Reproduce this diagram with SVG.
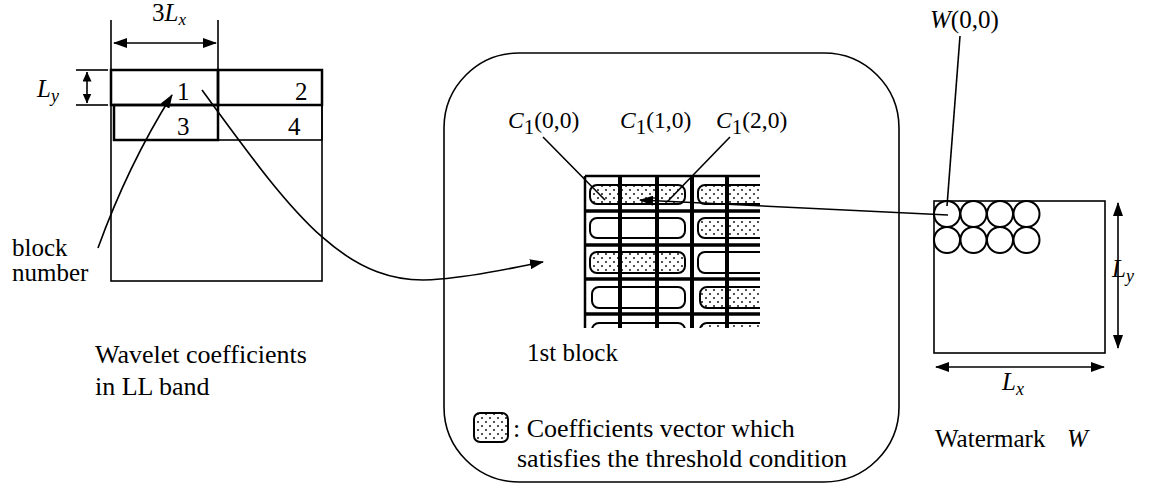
<svg xmlns="http://www.w3.org/2000/svg" width="1149" height="484" viewBox="0 0 1149 484">
<style>
text{font-family:"Liberation Serif","Times New Roman",Times,"Nimbus Roman","DejaVu Serif","Noto Serif",serif;font-size:25px;fill:#000}
.i{font-style:italic}
.big{font-size:26px}
.lbl{font-size:23.5px}
.ln{fill:none;stroke:#000;stroke-width:1.6}
.blk{fill:none;stroke:#000;stroke-width:2.5}
.cap{stroke:#000;stroke-width:2}
.gv{stroke:#000;stroke-width:4}
.gh{stroke:#000;stroke-width:3.5}
</style>
<defs>
<pattern id="dots" width="8" height="8" patternUnits="userSpaceOnUse">
<rect width="8" height="8" fill="#fff"/>
<circle cx="2" cy="2" r="0.9" fill="#000"/>
<circle cx="6" cy="6" r="0.9" fill="#000"/>
</pattern>
<marker id="ah" markerWidth="14" markerHeight="10" refX="13" refY="5" orient="auto-start-reverse" markerUnits="userSpaceOnUse">
<path d="M0,0 L14,5 L0,10 Z" fill="#000"/>
</marker>
<marker id="ahs" markerWidth="10" markerHeight="9" refX="9.5" refY="4.5" orient="auto-start-reverse" markerUnits="userSpaceOnUse">
<path d="M0,0 L10,4.5 L0,9 Z" fill="#000"/>
</marker>
<clipPath id="gclip"><rect x="583" y="174" width="177" height="154"/></clipPath>
</defs>

<g id="ll-band">
<rect x="111" y="70" width="211" height="211" class="ln"/>
<rect x="111" y="70" width="107" height="35" class="blk"/>
<rect x="218" y="70" width="104" height="35" class="blk"/>
<rect x="114" y="105" width="104" height="35" class="blk"/>
<rect x="218" y="105" width="104" height="35" class="ln"/>
<text x="177" y="100">1</text>
<text x="295" y="100">2</text>
<text x="177" y="135">3</text>
<text x="288" y="135">4</text>
<line x1="111" y1="20" x2="111" y2="70" class="ln"/>
<line x1="218" y1="20" x2="218" y2="70" class="ln"/>
<line x1="114" y1="43" x2="216" y2="43" class="ln" marker-start="url(#ah)" marker-end="url(#ah)"/>
<text x="152" y="21">3<tspan class="i">L</tspan><tspan class="i" font-size="17" dy="4">x</tspan></text>
<line x1="76" y1="70" x2="108" y2="70" class="ln"/>
<line x1="76" y1="105" x2="108" y2="105" class="ln"/>
<line x1="87" y1="72" x2="87" y2="103" class="ln" marker-start="url(#ahs)" marker-end="url(#ahs)"/>
<text x="37" y="97" class="i">L<tspan font-size="18" dy="5">y</tspan></text>
<text x="12" y="256">block</text>
<text x="12" y="281">number</text>
<text x="95" y="363" class="big">Wavelet coefficients</text>
<text x="95" y="395" class="big">in LL band</text>
</g>

<g id="first-block">
<rect x="444" y="53" width="455" height="429" rx="75" ry="75" class="ln" stroke-width="2"/>
<g clip-path="url(#gclip)">
<rect x="590" y="185" width="95" height="19" rx="7" fill="url(#dots)" class="cap"/>
<rect x="698" y="185" width="110" height="19" rx="7" fill="url(#dots)" class="cap"/>
<rect x="590" y="218" width="95" height="20" rx="7" fill="#fff" class="cap"/>
<rect x="698" y="218" width="110" height="20" rx="7" fill="url(#dots)" class="cap"/>
<rect x="590" y="252" width="95" height="21" rx="7" fill="url(#dots)" class="cap"/>
<rect x="698" y="252" width="110" height="21" rx="7" fill="#fff" class="cap"/>
<rect x="592" y="287" width="93" height="21" rx="7" fill="#fff" class="cap"/>
<rect x="700" y="287" width="110" height="21" rx="7" fill="url(#dots)" class="cap"/>
<rect x="592" y="323" width="93" height="21" rx="7" fill="#fff" class="cap"/>
<rect x="700" y="323" width="110" height="21" rx="7" fill="url(#dots)" class="cap"/>
<line x1="585" y1="176" x2="760" y2="176" stroke="#000" stroke-width="2.5"/>
<line x1="585" y1="176" x2="585" y2="330" stroke="#000" stroke-width="2.5"/>
<line x1="585" y1="211" x2="760" y2="211" class="gh"/>
<line x1="585" y1="245" x2="760" y2="245" class="gh"/>
<line x1="585" y1="279" x2="760" y2="279" class="gh"/>
<line x1="585" y1="314" x2="760" y2="314" class="gh"/>
<line x1="620" y1="176" x2="620" y2="330" class="gv"/>
<line x1="657" y1="176" x2="657" y2="330" class="gv"/>
<line x1="692" y1="176" x2="692" y2="330" class="gv"/>
<line x1="727" y1="176" x2="727" y2="330" class="gv"/>
</g>
<text x="508" y="128" class="lbl"><tspan class="i">C</tspan><tspan font-size="21" dy="6">1</tspan><tspan dy="-6">(0,0)</tspan></text>
<text x="620" y="128" class="lbl"><tspan class="i">C</tspan><tspan font-size="21" dy="6">1</tspan><tspan dy="-6">(1,0)</tspan></text>
<text x="716" y="128" class="lbl"><tspan class="i">C</tspan><tspan font-size="21" dy="6">1</tspan><tspan dy="-6">(2,0)</tspan></text>
<text x="527" y="361">1st block</text>
<rect x="474" y="413" width="34" height="29" rx="6" fill="url(#dots)" class="cap"/>
<text x="513" y="437" class="big">: Coefficients vector which</text>
<text x="517" y="467" class="big">satisfies the threshold condition</text>
</g>

<g id="watermark">
<rect x="934" y="201" width="171" height="152" class="ln"/>
<g fill="none" stroke="#000" stroke-width="2">
<circle cx="947" cy="214" r="13"/><circle cx="973.5" cy="214" r="13"/><circle cx="1000" cy="214" r="13"/><circle cx="1026.5" cy="214" r="13"/>
<circle cx="947" cy="240" r="13"/><circle cx="973.5" cy="240" r="13"/><circle cx="1000" cy="240" r="13"/><circle cx="1026.5" cy="240" r="13"/>
</g>
<line x1="1118" y1="203" x2="1118" y2="348" class="ln" marker-start="url(#ah)" marker-end="url(#ah)"/>
<line x1="936" y1="367" x2="1104" y2="367" class="ln" marker-start="url(#ah)" marker-end="url(#ah)"/>
<text x="1112" y="277" class="i">L<tspan font-size="18" dy="5">y</tspan></text>
<text x="1002" y="390" class="i">L<tspan font-size="18" dy="5">x</tspan></text>
<text x="935" y="447">Watermark</text>
<text x="1067" y="447" class="i">W</text>
<text x="930" y="28"><tspan class="i">W</tspan>(0,0)</text>
</g>

<g id="connectors">
<path d="M98,248 Q128,165 172,95" class="ln" marker-end="url(#ah)"/>
<path d="M202,90 C290,210 345,290 440,279 C480,276 515,267 543,262" class="ln" marker-end="url(#ah)"/>
<line x1="948" y1="215" x2="640" y2="200" class="ln" marker-end="url(#ah)"/>
<line x1="543" y1="137" x2="605" y2="200" class="ln"/>
<line x1="730" y1="137" x2="667" y2="202" class="ln"/>
<line x1="947" y1="206" x2="960" y2="36" class="ln"/>
</g>
</svg>
